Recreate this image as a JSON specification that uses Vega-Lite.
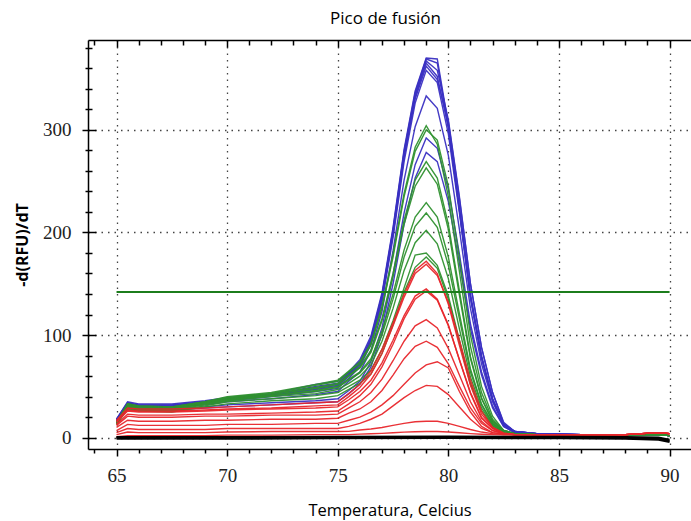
{
"$schema": "https://vega.github.io/schema/vega-lite/v6.json",
"width": 603, "height": 409,
"autosize": "none",
"padding": {"left": 88, "top": 40, "right": 0, "bottom": 72},
"background": "white",
"title": {"text": "Pico de fusión", "font": "Open Sans", "fontSize": 17, "fontWeight": "normal", "color": "#000", "offset": 11, "dx": -4},
"config": {"view": {"stroke": null}, "axis": {"domainColor": "#000", "domainWidth": 1.5, "tickColor": "#000", "tickWidth": 1.5, "labelColor": "#222", "labelFont": "Liberation Sans Narrow", "labelFontSize": 19, "titleFont": "Open Sans", "titleColor": "#000", "labelOverlap": false, "labelFlush": false, "labelBound": false}},
"datasets": {
"umbral": [{"t": 65, "v": 142}, {"t": 90, "v": 142}],
"ntc": [
{"id":"K1","t":65,"v":0.5},{"id":"K1","t":70,"v":0.5},{"id":"K1","t":75,"v":0.8},{"id":"K1","t":80,"v":1},{"id":"K1","t":85,"v":0.8},{"id":"K1","t":88,"v":0.5},{"id":"K1","t":89.5,"v":0},{"id":"K1","t":90,"v":-2},
{"id":"K2","t":65,"v":-0.8},{"id":"K2","t":70,"v":-1},{"id":"K2","t":75,"v":-0.5},{"id":"K2","t":80,"v":-0.3},{"id":"K2","t":85,"v":-0.5},{"id":"K2","t":88,"v":-1},{"id":"K2","t":89.5,"v":-2},{"id":"K2","t":90,"v":-4},
{"id":"K3","t":65,"v":0},{"id":"K3","t":70,"v":-0.2},{"id":"K3","t":75,"v":0.2},{"id":"K3","t":80,"v":0.3},{"id":"K3","t":85,"v":0.1},{"id":"K3","t":88,"v":-0.2},{"id":"K3","t":89.5,"v":-1},{"id":"K3","t":90,"v":-3}
],
"curvas": [
{"id":"B1","g":"B","t":65,"v":18},{"id":"B1","g":"B","t":65.5,"v":35},{"id":"B1","g":"B","t":66,"v":33},{"id":"B1","g":"B","t":67.5,"v":33},{"id":"B1","g":"B","t":69,"v":36},{"id":"B1","g":"B","t":70,"v":39},{"id":"B1","g":"B","t":72,"v":43},{"id":"B1","g":"B","t":74,"v":52},{"id":"B1","g":"B","t":75,"v":55},{"id":"B1","g":"B","t":75.5,"v":64},{"id":"B1","g":"B","t":76,"v":76},{"id":"B1","g":"B","t":76.5,"v":99},{"id":"B1","g":"B","t":77,"v":141},{"id":"B1","g":"B","t":77.5,"v":205},{"id":"B1","g":"B","t":78,"v":281},{"id":"B1","g":"B","t":78.5,"v":338},{"id":"B1","g":"B","t":79,"v":370},{"id":"B1","g":"B","t":79.5,"v":369},{"id":"B1","g":"B","t":80,"v":305},{"id":"B1","g":"B","t":80.5,"v":225},{"id":"B1","g":"B","t":81,"v":140},{"id":"B1","g":"B","t":81.5,"v":80},{"id":"B1","g":"B","t":82,"v":38},{"id":"B1","g":"B","t":82.5,"v":13},{"id":"B1","g":"B","t":83,"v":6},{"id":"B1","g":"B","t":84,"v":4},{"id":"B1","g":"B","t":86,"v":3},{"id":"B1","g":"B","t":88,"v":3},{"id":"B1","g":"B","t":89.5,"v":3},{"id":"B1","g":"B","t":90,"v":2},
{"id":"B2","g":"B","t":65,"v":18},{"id":"B2","g":"B","t":65.5,"v":34},{"id":"B2","g":"B","t":66,"v":32},{"id":"B2","g":"B","t":67.5,"v":32},{"id":"B2","g":"B","t":69,"v":35},{"id":"B2","g":"B","t":70,"v":38},{"id":"B2","g":"B","t":72,"v":42},{"id":"B2","g":"B","t":74,"v":50},{"id":"B2","g":"B","t":75,"v":53},{"id":"B2","g":"B","t":75.5,"v":63},{"id":"B2","g":"B","t":76,"v":74},{"id":"B2","g":"B","t":76.5,"v":97},{"id":"B2","g":"B","t":77,"v":139},{"id":"B2","g":"B","t":77.5,"v":203},{"id":"B2","g":"B","t":78,"v":279},{"id":"B2","g":"B","t":78.5,"v":336},{"id":"B2","g":"B","t":79,"v":369},{"id":"B2","g":"B","t":79.5,"v":365},{"id":"B2","g":"B","t":80,"v":303},{"id":"B2","g":"B","t":80.5,"v":222},{"id":"B2","g":"B","t":81,"v":137},{"id":"B2","g":"B","t":81.5,"v":78},{"id":"B2","g":"B","t":82,"v":37},{"id":"B2","g":"B","t":82.5,"v":13},{"id":"B2","g":"B","t":83,"v":6},{"id":"B2","g":"B","t":84,"v":4},{"id":"B2","g":"B","t":86,"v":3},{"id":"B2","g":"B","t":88,"v":3},{"id":"B2","g":"B","t":89.5,"v":3},{"id":"B2","g":"B","t":90,"v":2},
{"id":"B3","g":"B","t":65,"v":17},{"id":"B3","g":"B","t":65.5,"v":34},{"id":"B3","g":"B","t":66,"v":32},{"id":"B3","g":"B","t":67.5,"v":32},{"id":"B3","g":"B","t":69,"v":35},{"id":"B3","g":"B","t":70,"v":38},{"id":"B3","g":"B","t":72,"v":42},{"id":"B3","g":"B","t":74,"v":49},{"id":"B3","g":"B","t":75,"v":52},{"id":"B3","g":"B","t":75.5,"v":62},{"id":"B3","g":"B","t":76,"v":73},{"id":"B3","g":"B","t":76.5,"v":95},{"id":"B3","g":"B","t":77,"v":138},{"id":"B3","g":"B","t":77.5,"v":201},{"id":"B3","g":"B","t":78,"v":277},{"id":"B3","g":"B","t":78.5,"v":334},{"id":"B3","g":"B","t":79,"v":367},{"id":"B3","g":"B","t":79.5,"v":358},{"id":"B3","g":"B","t":80,"v":310},{"id":"B3","g":"B","t":80.5,"v":235},{"id":"B3","g":"B","t":81,"v":150},{"id":"B3","g":"B","t":81.5,"v":88},{"id":"B3","g":"B","t":82,"v":44},{"id":"B3","g":"B","t":82.5,"v":15},{"id":"B3","g":"B","t":83,"v":6},{"id":"B3","g":"B","t":84,"v":4},{"id":"B3","g":"B","t":86,"v":3},{"id":"B3","g":"B","t":88,"v":3},{"id":"B3","g":"B","t":89.5,"v":3},{"id":"B3","g":"B","t":90,"v":2},
{"id":"B4","g":"B","t":65,"v":17},{"id":"B4","g":"B","t":65.5,"v":33},{"id":"B4","g":"B","t":66,"v":31},{"id":"B4","g":"B","t":67.5,"v":31},{"id":"B4","g":"B","t":69,"v":34},{"id":"B4","g":"B","t":70,"v":37},{"id":"B4","g":"B","t":72,"v":41},{"id":"B4","g":"B","t":74,"v":48},{"id":"B4","g":"B","t":75,"v":51},{"id":"B4","g":"B","t":75.5,"v":61},{"id":"B4","g":"B","t":76,"v":72},{"id":"B4","g":"B","t":76.5,"v":94},{"id":"B4","g":"B","t":77,"v":136},{"id":"B4","g":"B","t":77.5,"v":200},{"id":"B4","g":"B","t":78,"v":275},{"id":"B4","g":"B","t":78.5,"v":332},{"id":"B4","g":"B","t":79,"v":365},{"id":"B4","g":"B","t":79.5,"v":352},{"id":"B4","g":"B","t":80,"v":302},{"id":"B4","g":"B","t":80.5,"v":222},{"id":"B4","g":"B","t":81,"v":138},{"id":"B4","g":"B","t":81.5,"v":79},{"id":"B4","g":"B","t":82,"v":38},{"id":"B4","g":"B","t":82.5,"v":13},{"id":"B4","g":"B","t":83,"v":6},{"id":"B4","g":"B","t":84,"v":4},{"id":"B4","g":"B","t":86,"v":3},{"id":"B4","g":"B","t":88,"v":3},{"id":"B4","g":"B","t":89.5,"v":3},{"id":"B4","g":"B","t":90,"v":2},
{"id":"B5","g":"B","t":65,"v":17},{"id":"B5","g":"B","t":65.5,"v":33},{"id":"B5","g":"B","t":66,"v":31},{"id":"B5","g":"B","t":67.5,"v":31},{"id":"B5","g":"B","t":69,"v":34},{"id":"B5","g":"B","t":70,"v":37},{"id":"B5","g":"B","t":72,"v":41},{"id":"B5","g":"B","t":74,"v":47},{"id":"B5","g":"B","t":75,"v":50},{"id":"B5","g":"B","t":75.5,"v":60},{"id":"B5","g":"B","t":76,"v":71},{"id":"B5","g":"B","t":76.5,"v":93},{"id":"B5","g":"B","t":77,"v":135},{"id":"B5","g":"B","t":77.5,"v":198},{"id":"B5","g":"B","t":78,"v":273},{"id":"B5","g":"B","t":78.5,"v":330},{"id":"B5","g":"B","t":79,"v":362},{"id":"B5","g":"B","t":79.5,"v":349},{"id":"B5","g":"B","t":80,"v":308},{"id":"B5","g":"B","t":80.5,"v":233},{"id":"B5","g":"B","t":81,"v":150},{"id":"B5","g":"B","t":81.5,"v":88},{"id":"B5","g":"B","t":82,"v":44},{"id":"B5","g":"B","t":82.5,"v":14},{"id":"B5","g":"B","t":83,"v":6},{"id":"B5","g":"B","t":84,"v":4},{"id":"B5","g":"B","t":86,"v":3},{"id":"B5","g":"B","t":88,"v":3},{"id":"B5","g":"B","t":89.5,"v":3},{"id":"B5","g":"B","t":90,"v":2},
{"id":"B6","g":"B","t":65,"v":16},{"id":"B6","g":"B","t":65.5,"v":32},{"id":"B6","g":"B","t":66,"v":30},{"id":"B6","g":"B","t":67.5,"v":30},{"id":"B6","g":"B","t":69,"v":33},{"id":"B6","g":"B","t":70,"v":36},{"id":"B6","g":"B","t":72,"v":40},{"id":"B6","g":"B","t":74,"v":45},{"id":"B6","g":"B","t":75,"v":48},{"id":"B6","g":"B","t":75.5,"v":58},{"id":"B6","g":"B","t":76,"v":69},{"id":"B6","g":"B","t":76.5,"v":91},{"id":"B6","g":"B","t":77,"v":132},{"id":"B6","g":"B","t":77.5,"v":195},{"id":"B6","g":"B","t":78,"v":269},{"id":"B6","g":"B","t":78.5,"v":326},{"id":"B6","g":"B","t":79,"v":358},{"id":"B6","g":"B","t":79.5,"v":346},{"id":"B6","g":"B","t":80,"v":296},{"id":"B6","g":"B","t":80.5,"v":219},{"id":"B6","g":"B","t":81,"v":136},{"id":"B6","g":"B","t":81.5,"v":78},{"id":"B6","g":"B","t":82,"v":37},{"id":"B6","g":"B","t":82.5,"v":13},{"id":"B6","g":"B","t":83,"v":6},{"id":"B6","g":"B","t":84,"v":4},{"id":"B6","g":"B","t":86,"v":3},{"id":"B6","g":"B","t":88,"v":3},{"id":"B6","g":"B","t":89.5,"v":3},{"id":"B6","g":"B","t":90,"v":2},
{"id":"B7","g":"B","t":65,"v":16},{"id":"B7","g":"B","t":65.5,"v":32},{"id":"B7","g":"B","t":66,"v":30},{"id":"B7","g":"B","t":67.5,"v":30},{"id":"B7","g":"B","t":69,"v":32},{"id":"B7","g":"B","t":70,"v":35},{"id":"B7","g":"B","t":72,"v":38},{"id":"B7","g":"B","t":74,"v":42},{"id":"B7","g":"B","t":75,"v":45},{"id":"B7","g":"B","t":75.5,"v":55},{"id":"B7","g":"B","t":76,"v":64},{"id":"B7","g":"B","t":76.5,"v":85},{"id":"B7","g":"B","t":77,"v":123},{"id":"B7","g":"B","t":77.5,"v":182},{"id":"B7","g":"B","t":78,"v":251},{"id":"B7","g":"B","t":78.5,"v":303},{"id":"B7","g":"B","t":79,"v":333},{"id":"B7","g":"B","t":79.5,"v":321},{"id":"B7","g":"B","t":80,"v":275},{"id":"B7","g":"B","t":80.5,"v":203},{"id":"B7","g":"B","t":81,"v":126},{"id":"B7","g":"B","t":81.5,"v":72},{"id":"B7","g":"B","t":82,"v":35},{"id":"B7","g":"B","t":82.5,"v":12},{"id":"B7","g":"B","t":83,"v":5},{"id":"B7","g":"B","t":84,"v":4},{"id":"B7","g":"B","t":86,"v":3},{"id":"B7","g":"B","t":88,"v":3},{"id":"B7","g":"B","t":89.5,"v":3},{"id":"B7","g":"B","t":90,"v":2},
{"id":"B8","g":"B","t":65,"v":15},{"id":"B8","g":"B","t":65.5,"v":30},{"id":"B8","g":"B","t":66,"v":28},{"id":"B8","g":"B","t":67.5,"v":28},{"id":"B8","g":"B","t":69,"v":30},{"id":"B8","g":"B","t":70,"v":32},{"id":"B8","g":"B","t":72,"v":34},{"id":"B8","g":"B","t":74,"v":36},{"id":"B8","g":"B","t":75,"v":38},{"id":"B8","g":"B","t":75.5,"v":46},{"id":"B8","g":"B","t":76,"v":55},{"id":"B8","g":"B","t":76.5,"v":74},{"id":"B8","g":"B","t":77,"v":107},{"id":"B8","g":"B","t":77.5,"v":159},{"id":"B8","g":"B","t":78,"v":219},{"id":"B8","g":"B","t":78.5,"v":266},{"id":"B8","g":"B","t":79,"v":292},{"id":"B8","g":"B","t":79.5,"v":282},{"id":"B8","g":"B","t":80,"v":242},{"id":"B8","g":"B","t":80.5,"v":179},{"id":"B8","g":"B","t":81,"v":111},{"id":"B8","g":"B","t":81.5,"v":64},{"id":"B8","g":"B","t":82,"v":31},{"id":"B8","g":"B","t":82.5,"v":11},{"id":"B8","g":"B","t":83,"v":5},{"id":"B8","g":"B","t":84,"v":4},{"id":"B8","g":"B","t":86,"v":3},{"id":"B8","g":"B","t":88,"v":3},{"id":"B8","g":"B","t":89.5,"v":3},{"id":"B8","g":"B","t":90,"v":2},
{"id":"B9","g":"B","t":65,"v":15},{"id":"B9","g":"B","t":65.5,"v":29},{"id":"B9","g":"B","t":66,"v":27},{"id":"B9","g":"B","t":67.5,"v":27},{"id":"B9","g":"B","t":69,"v":29},{"id":"B9","g":"B","t":70,"v":30},{"id":"B9","g":"B","t":72,"v":32},{"id":"B9","g":"B","t":74,"v":34},{"id":"B9","g":"B","t":75,"v":35},{"id":"B9","g":"B","t":75.5,"v":43},{"id":"B9","g":"B","t":76,"v":52},{"id":"B9","g":"B","t":76.5,"v":69},{"id":"B9","g":"B","t":77,"v":101},{"id":"B9","g":"B","t":77.5,"v":150},{"id":"B9","g":"B","t":78,"v":208},{"id":"B9","g":"B","t":78.5,"v":253},{"id":"B9","g":"B","t":79,"v":278},{"id":"B9","g":"B","t":79.5,"v":269},{"id":"B9","g":"B","t":80,"v":230},{"id":"B9","g":"B","t":80.5,"v":170},{"id":"B9","g":"B","t":81,"v":106},{"id":"B9","g":"B","t":81.5,"v":61},{"id":"B9","g":"B","t":82,"v":29},{"id":"B9","g":"B","t":82.5,"v":11},{"id":"B9","g":"B","t":83,"v":5},{"id":"B9","g":"B","t":84,"v":4},{"id":"B9","g":"B","t":86,"v":3},{"id":"B9","g":"B","t":88,"v":3},{"id":"B9","g":"B","t":89.5,"v":3},{"id":"B9","g":"B","t":90,"v":2},
{"id":"G1","g":"G","t":65,"v":15},{"id":"G1","g":"G","t":65.5,"v":33},{"id":"G1","g":"G","t":66,"v":31},{"id":"G1","g":"G","t":67.5,"v":30},{"id":"G1","g":"G","t":69,"v":35},{"id":"G1","g":"G","t":70,"v":40},{"id":"G1","g":"G","t":72,"v":44},{"id":"G1","g":"G","t":74,"v":52},{"id":"G1","g":"G","t":75,"v":56},{"id":"G1","g":"G","t":75.5,"v":65},{"id":"G1","g":"G","t":76,"v":74},{"id":"G1","g":"G","t":76.5,"v":92},{"id":"G1","g":"G","t":77,"v":128},{"id":"G1","g":"G","t":77.5,"v":179},{"id":"G1","g":"G","t":78,"v":238},{"id":"G1","g":"G","t":78.5,"v":283},{"id":"G1","g":"G","t":79,"v":304},{"id":"G1","g":"G","t":79.5,"v":286},{"id":"G1","g":"G","t":80,"v":235},{"id":"G1","g":"G","t":80.5,"v":162},{"id":"G1","g":"G","t":81,"v":89},{"id":"G1","g":"G","t":81.5,"v":44},{"id":"G1","g":"G","t":82,"v":18},{"id":"G1","g":"G","t":82.5,"v":7},{"id":"G1","g":"G","t":83,"v":4},{"id":"G1","g":"G","t":84,"v":3},{"id":"G1","g":"G","t":86,"v":3},{"id":"G1","g":"G","t":88,"v":3},{"id":"G1","g":"G","t":89.5,"v":3},{"id":"G1","g":"G","t":90,"v":2},
{"id":"G2","g":"G","t":65,"v":15},{"id":"G2","g":"G","t":65.5,"v":33},{"id":"G2","g":"G","t":66,"v":31},{"id":"G2","g":"G","t":67.5,"v":30},{"id":"G2","g":"G","t":69,"v":35},{"id":"G2","g":"G","t":70,"v":39},{"id":"G2","g":"G","t":72,"v":43},{"id":"G2","g":"G","t":74,"v":51},{"id":"G2","g":"G","t":75,"v":55},{"id":"G2","g":"G","t":75.5,"v":64},{"id":"G2","g":"G","t":76,"v":72},{"id":"G2","g":"G","t":76.5,"v":90},{"id":"G2","g":"G","t":77,"v":126},{"id":"G2","g":"G","t":77.5,"v":176},{"id":"G2","g":"G","t":78,"v":235},{"id":"G2","g":"G","t":78.5,"v":279},{"id":"G2","g":"G","t":79,"v":300},{"id":"G2","g":"G","t":79.5,"v":290},{"id":"G2","g":"G","t":80,"v":245},{"id":"G2","g":"G","t":80.5,"v":175},{"id":"G2","g":"G","t":81,"v":100},{"id":"G2","g":"G","t":81.5,"v":50},{"id":"G2","g":"G","t":82,"v":21},{"id":"G2","g":"G","t":82.5,"v":7},{"id":"G2","g":"G","t":83,"v":4},{"id":"G2","g":"G","t":84,"v":3},{"id":"G2","g":"G","t":86,"v":3},{"id":"G2","g":"G","t":88,"v":3},{"id":"G2","g":"G","t":89.5,"v":3},{"id":"G2","g":"G","t":90,"v":2},
{"id":"G3","g":"G","t":65,"v":15},{"id":"G3","g":"G","t":65.5,"v":32},{"id":"G3","g":"G","t":66,"v":30},{"id":"G3","g":"G","t":67.5,"v":29},{"id":"G3","g":"G","t":69,"v":34},{"id":"G3","g":"G","t":70,"v":39},{"id":"G3","g":"G","t":72,"v":43},{"id":"G3","g":"G","t":74,"v":49},{"id":"G3","g":"G","t":75,"v":53},{"id":"G3","g":"G","t":75.5,"v":61},{"id":"G3","g":"G","t":76,"v":69},{"id":"G3","g":"G","t":76.5,"v":85},{"id":"G3","g":"G","t":77,"v":116},{"id":"G3","g":"G","t":77.5,"v":160},{"id":"G3","g":"G","t":78,"v":212},{"id":"G3","g":"G","t":78.5,"v":251},{"id":"G3","g":"G","t":79,"v":269},{"id":"G3","g":"G","t":79.5,"v":253},{"id":"G3","g":"G","t":80,"v":208},{"id":"G3","g":"G","t":80.5,"v":143},{"id":"G3","g":"G","t":81,"v":79},{"id":"G3","g":"G","t":81.5,"v":39},{"id":"G3","g":"G","t":82,"v":16},{"id":"G3","g":"G","t":82.5,"v":7},{"id":"G3","g":"G","t":83,"v":4},{"id":"G3","g":"G","t":84,"v":3},{"id":"G3","g":"G","t":86,"v":3},{"id":"G3","g":"G","t":88,"v":3},{"id":"G3","g":"G","t":89.5,"v":3},{"id":"G3","g":"G","t":90,"v":2},
{"id":"G4","g":"G","t":65,"v":15},{"id":"G4","g":"G","t":65.5,"v":32},{"id":"G4","g":"G","t":66,"v":30},{"id":"G4","g":"G","t":67.5,"v":29},{"id":"G4","g":"G","t":69,"v":34},{"id":"G4","g":"G","t":70,"v":38},{"id":"G4","g":"G","t":72,"v":42},{"id":"G4","g":"G","t":74,"v":48},{"id":"G4","g":"G","t":75,"v":52},{"id":"G4","g":"G","t":75.5,"v":60},{"id":"G4","g":"G","t":76,"v":68},{"id":"G4","g":"G","t":76.5,"v":83},{"id":"G4","g":"G","t":77,"v":114},{"id":"G4","g":"G","t":77.5,"v":157},{"id":"G4","g":"G","t":78,"v":208},{"id":"G4","g":"G","t":78.5,"v":245},{"id":"G4","g":"G","t":79,"v":263},{"id":"G4","g":"G","t":79.5,"v":247},{"id":"G4","g":"G","t":80,"v":203},{"id":"G4","g":"G","t":80.5,"v":139},{"id":"G4","g":"G","t":81,"v":77},{"id":"G4","g":"G","t":81.5,"v":38},{"id":"G4","g":"G","t":82,"v":16},{"id":"G4","g":"G","t":82.5,"v":7},{"id":"G4","g":"G","t":83,"v":4},{"id":"G4","g":"G","t":84,"v":3},{"id":"G4","g":"G","t":86,"v":3},{"id":"G4","g":"G","t":88,"v":3},{"id":"G4","g":"G","t":89.5,"v":3},{"id":"G4","g":"G","t":90,"v":2},
{"id":"G5","g":"G","t":65,"v":14},{"id":"G5","g":"G","t":65.5,"v":31},{"id":"G5","g":"G","t":66,"v":29},{"id":"G5","g":"G","t":67.5,"v":28},{"id":"G5","g":"G","t":69,"v":33},{"id":"G5","g":"G","t":70,"v":37},{"id":"G5","g":"G","t":72,"v":41},{"id":"G5","g":"G","t":74,"v":46},{"id":"G5","g":"G","t":75,"v":50},{"id":"G5","g":"G","t":75.5,"v":57},{"id":"G5","g":"G","t":76,"v":64},{"id":"G5","g":"G","t":76.5,"v":77},{"id":"G5","g":"G","t":77,"v":104},{"id":"G5","g":"G","t":77.5,"v":140},{"id":"G5","g":"G","t":78,"v":183},{"id":"G5","g":"G","t":78.5,"v":215},{"id":"G5","g":"G","t":79,"v":229},{"id":"G5","g":"G","t":79.5,"v":215},{"id":"G5","g":"G","t":80,"v":176},{"id":"G5","g":"G","t":80.5,"v":121},{"id":"G5","g":"G","t":81,"v":67},{"id":"G5","g":"G","t":81.5,"v":33},{"id":"G5","g":"G","t":82,"v":14},{"id":"G5","g":"G","t":82.5,"v":6},{"id":"G5","g":"G","t":83,"v":4},{"id":"G5","g":"G","t":84,"v":3},{"id":"G5","g":"G","t":86,"v":3},{"id":"G5","g":"G","t":88,"v":3},{"id":"G5","g":"G","t":89.5,"v":3},{"id":"G5","g":"G","t":90,"v":2},
{"id":"G6","g":"G","t":65,"v":14},{"id":"G6","g":"G","t":65.5,"v":31},{"id":"G6","g":"G","t":66,"v":29},{"id":"G6","g":"G","t":67.5,"v":28},{"id":"G6","g":"G","t":69,"v":33},{"id":"G6","g":"G","t":70,"v":37},{"id":"G6","g":"G","t":72,"v":41},{"id":"G6","g":"G","t":74,"v":45},{"id":"G6","g":"G","t":75,"v":49},{"id":"G6","g":"G","t":75.5,"v":56},{"id":"G6","g":"G","t":76,"v":63},{"id":"G6","g":"G","t":76.5,"v":75},{"id":"G6","g":"G","t":77,"v":100},{"id":"G6","g":"G","t":77.5,"v":135},{"id":"G6","g":"G","t":78,"v":176},{"id":"G6","g":"G","t":78.5,"v":206},{"id":"G6","g":"G","t":79,"v":219},{"id":"G6","g":"G","t":79.5,"v":205},{"id":"G6","g":"G","t":80,"v":168},{"id":"G6","g":"G","t":80.5,"v":116},{"id":"G6","g":"G","t":81,"v":64},{"id":"G6","g":"G","t":81.5,"v":32},{"id":"G6","g":"G","t":82,"v":14},{"id":"G6","g":"G","t":82.5,"v":6},{"id":"G6","g":"G","t":83,"v":4},{"id":"G6","g":"G","t":84,"v":3},{"id":"G6","g":"G","t":86,"v":3},{"id":"G6","g":"G","t":88,"v":3},{"id":"G6","g":"G","t":89.5,"v":3},{"id":"G6","g":"G","t":90,"v":2},
{"id":"G7","g":"G","t":65,"v":14},{"id":"G7","g":"G","t":65.5,"v":30},{"id":"G7","g":"G","t":66,"v":28},{"id":"G7","g":"G","t":67.5,"v":27},{"id":"G7","g":"G","t":69,"v":32},{"id":"G7","g":"G","t":70,"v":36},{"id":"G7","g":"G","t":72,"v":40},{"id":"G7","g":"G","t":74,"v":43},{"id":"G7","g":"G","t":75,"v":47},{"id":"G7","g":"G","t":75.5,"v":53},{"id":"G7","g":"G","t":76,"v":60},{"id":"G7","g":"G","t":76.5,"v":71},{"id":"G7","g":"G","t":77,"v":94},{"id":"G7","g":"G","t":77.5,"v":126},{"id":"G7","g":"G","t":78,"v":163},{"id":"G7","g":"G","t":78.5,"v":190},{"id":"G7","g":"G","t":79,"v":202},{"id":"G7","g":"G","t":79.5,"v":189},{"id":"G7","g":"G","t":80,"v":155},{"id":"G7","g":"G","t":80.5,"v":106},{"id":"G7","g":"G","t":81,"v":59},{"id":"G7","g":"G","t":81.5,"v":29},{"id":"G7","g":"G","t":82,"v":13},{"id":"G7","g":"G","t":82.5,"v":6},{"id":"G7","g":"G","t":83,"v":4},{"id":"G7","g":"G","t":84,"v":3},{"id":"G7","g":"G","t":86,"v":3},{"id":"G7","g":"G","t":88,"v":3},{"id":"G7","g":"G","t":89.5,"v":3},{"id":"G7","g":"G","t":90,"v":2},
{"id":"G8","g":"G","t":65,"v":13},{"id":"G8","g":"G","t":65.5,"v":29},{"id":"G8","g":"G","t":66,"v":27},{"id":"G8","g":"G","t":67.5,"v":26},{"id":"G8","g":"G","t":69,"v":31},{"id":"G8","g":"G","t":70,"v":35},{"id":"G8","g":"G","t":72,"v":38},{"id":"G8","g":"G","t":74,"v":41},{"id":"G8","g":"G","t":75,"v":44},{"id":"G8","g":"G","t":75.5,"v":50},{"id":"G8","g":"G","t":76,"v":56},{"id":"G8","g":"G","t":76.5,"v":66},{"id":"G8","g":"G","t":77,"v":86},{"id":"G8","g":"G","t":77.5,"v":114},{"id":"G8","g":"G","t":78,"v":146},{"id":"G8","g":"G","t":78.5,"v":178},{"id":"G8","g":"G","t":79,"v":180},{"id":"G8","g":"G","t":79.5,"v":168},{"id":"G8","g":"G","t":80,"v":138},{"id":"G8","g":"G","t":80.5,"v":95},{"id":"G8","g":"G","t":81,"v":53},{"id":"G8","g":"G","t":81.5,"v":26},{"id":"G8","g":"G","t":82,"v":12},{"id":"G8","g":"G","t":82.5,"v":5},{"id":"G8","g":"G","t":83,"v":4},{"id":"G8","g":"G","t":84,"v":3},{"id":"G8","g":"G","t":86,"v":3},{"id":"G8","g":"G","t":88,"v":3},{"id":"G8","g":"G","t":89.5,"v":3},{"id":"G8","g":"G","t":90,"v":2},
{"id":"G9","g":"G","t":65,"v":13},{"id":"G9","g":"G","t":65.5,"v":28},{"id":"G9","g":"G","t":66,"v":26},{"id":"G9","g":"G","t":67.5,"v":25},{"id":"G9","g":"G","t":69,"v":30},{"id":"G9","g":"G","t":70,"v":33},{"id":"G9","g":"G","t":72,"v":36},{"id":"G9","g":"G","t":74,"v":38},{"id":"G9","g":"G","t":75,"v":41},{"id":"G9","g":"G","t":75.5,"v":47},{"id":"G9","g":"G","t":76,"v":53},{"id":"G9","g":"G","t":76.5,"v":62},{"id":"G9","g":"G","t":77,"v":82},{"id":"G9","g":"G","t":77.5,"v":110},{"id":"G9","g":"G","t":78,"v":142},{"id":"G9","g":"G","t":78.5,"v":166},{"id":"G9","g":"G","t":79,"v":176},{"id":"G9","g":"G","t":79.5,"v":165},{"id":"G9","g":"G","t":80,"v":135},{"id":"G9","g":"G","t":80.5,"v":93},{"id":"G9","g":"G","t":81,"v":52},{"id":"G9","g":"G","t":81.5,"v":26},{"id":"G9","g":"G","t":82,"v":11},{"id":"G9","g":"G","t":82.5,"v":5},{"id":"G9","g":"G","t":83,"v":4},{"id":"G9","g":"G","t":84,"v":3},{"id":"G9","g":"G","t":86,"v":3},{"id":"G9","g":"G","t":88,"v":3},{"id":"G9","g":"G","t":89.5,"v":3},{"id":"G9","g":"G","t":90,"v":2},
{"id":"R1","g":"R","t":65,"v":17},{"id":"R1","g":"R","t":65.5,"v":29},{"id":"R1","g":"R","t":66,"v":28},{"id":"R1","g":"R","t":67.5,"v":28},{"id":"R1","g":"R","t":69,"v":29},{"id":"R1","g":"R","t":70,"v":30},{"id":"R1","g":"R","t":72,"v":32},{"id":"R1","g":"R","t":74,"v":34},{"id":"R1","g":"R","t":75,"v":35},{"id":"R1","g":"R","t":75.5,"v":43},{"id":"R1","g":"R","t":76,"v":52},{"id":"R1","g":"R","t":76.5,"v":65},{"id":"R1","g":"R","t":77,"v":86},{"id":"R1","g":"R","t":77.5,"v":112},{"id":"R1","g":"R","t":78,"v":140},{"id":"R1","g":"R","t":78.5,"v":163},{"id":"R1","g":"R","t":79,"v":172},{"id":"R1","g":"R","t":79.5,"v":160},{"id":"R1","g":"R","t":80,"v":130},{"id":"R1","g":"R","t":80.5,"v":90},{"id":"R1","g":"R","t":81,"v":51},{"id":"R1","g":"R","t":81.5,"v":23},{"id":"R1","g":"R","t":82,"v":10},{"id":"R1","g":"R","t":82.5,"v":4.5},{"id":"R1","g":"R","t":83,"v":3},{"id":"R1","g":"R","t":84,"v":3},{"id":"R1","g":"R","t":86,"v":3},{"id":"R1","g":"R","t":88,"v":3},{"id":"R1","g":"R","t":89.5,"v":5},{"id":"R1","g":"R","t":90,"v":4},
{"id":"R2","g":"R","t":65,"v":16},{"id":"R2","g":"R","t":65.5,"v":27},{"id":"R2","g":"R","t":66,"v":26},{"id":"R2","g":"R","t":67.5,"v":26},{"id":"R2","g":"R","t":69,"v":27},{"id":"R2","g":"R","t":70,"v":28},{"id":"R2","g":"R","t":72,"v":29},{"id":"R2","g":"R","t":74,"v":31},{"id":"R2","g":"R","t":75,"v":32},{"id":"R2","g":"R","t":75.5,"v":40},{"id":"R2","g":"R","t":76,"v":49},{"id":"R2","g":"R","t":76.5,"v":62},{"id":"R2","g":"R","t":77,"v":82},{"id":"R2","g":"R","t":77.5,"v":109},{"id":"R2","g":"R","t":78,"v":137},{"id":"R2","g":"R","t":78.5,"v":160},{"id":"R2","g":"R","t":79,"v":169},{"id":"R2","g":"R","t":79.5,"v":158},{"id":"R2","g":"R","t":80,"v":132},{"id":"R2","g":"R","t":80.5,"v":95},{"id":"R2","g":"R","t":81,"v":56},{"id":"R2","g":"R","t":81.5,"v":26},{"id":"R2","g":"R","t":82,"v":10},{"id":"R2","g":"R","t":82.5,"v":4.5},{"id":"R2","g":"R","t":83,"v":3},{"id":"R2","g":"R","t":84,"v":3},{"id":"R2","g":"R","t":86,"v":3},{"id":"R2","g":"R","t":88,"v":3},{"id":"R2","g":"R","t":89.5,"v":5},{"id":"R2","g":"R","t":90,"v":4},
{"id":"R3","g":"R","t":65,"v":15},{"id":"R3","g":"R","t":65.5,"v":26},{"id":"R3","g":"R","t":66,"v":25},{"id":"R3","g":"R","t":67.5,"v":25},{"id":"R3","g":"R","t":69,"v":26},{"id":"R3","g":"R","t":70,"v":27},{"id":"R3","g":"R","t":72,"v":28},{"id":"R3","g":"R","t":74,"v":29},{"id":"R3","g":"R","t":75,"v":30},{"id":"R3","g":"R","t":75.5,"v":37},{"id":"R3","g":"R","t":76,"v":45},{"id":"R3","g":"R","t":76.5,"v":56},{"id":"R3","g":"R","t":77,"v":73},{"id":"R3","g":"R","t":77.5,"v":95},{"id":"R3","g":"R","t":78,"v":119},{"id":"R3","g":"R","t":78.5,"v":138},{"id":"R3","g":"R","t":79,"v":145},{"id":"R3","g":"R","t":79.5,"v":135},{"id":"R3","g":"R","t":80,"v":110},{"id":"R3","g":"R","t":80.5,"v":76},{"id":"R3","g":"R","t":81,"v":44},{"id":"R3","g":"R","t":81.5,"v":20},{"id":"R3","g":"R","t":82,"v":9},{"id":"R3","g":"R","t":82.5,"v":4},{"id":"R3","g":"R","t":83,"v":3},{"id":"R3","g":"R","t":84,"v":3},{"id":"R3","g":"R","t":86,"v":3},{"id":"R3","g":"R","t":88,"v":3},{"id":"R3","g":"R","t":89.5,"v":5},{"id":"R3","g":"R","t":90,"v":4},
{"id":"R4","g":"R","t":65,"v":13},{"id":"R4","g":"R","t":65.5,"v":23},{"id":"R4","g":"R","t":66,"v":22},{"id":"R4","g":"R","t":67.5,"v":22},{"id":"R4","g":"R","t":69,"v":23},{"id":"R4","g":"R","t":70,"v":23},{"id":"R4","g":"R","t":72,"v":24},{"id":"R4","g":"R","t":74,"v":25},{"id":"R4","g":"R","t":75,"v":26},{"id":"R4","g":"R","t":75.5,"v":33},{"id":"R4","g":"R","t":76,"v":41},{"id":"R4","g":"R","t":76.5,"v":52},{"id":"R4","g":"R","t":77,"v":69},{"id":"R4","g":"R","t":77.5,"v":91},{"id":"R4","g":"R","t":78,"v":116},{"id":"R4","g":"R","t":78.5,"v":135},{"id":"R4","g":"R","t":79,"v":143},{"id":"R4","g":"R","t":79.5,"v":134},{"id":"R4","g":"R","t":80,"v":109},{"id":"R4","g":"R","t":80.5,"v":76},{"id":"R4","g":"R","t":81,"v":43},{"id":"R4","g":"R","t":81.5,"v":19},{"id":"R4","g":"R","t":82,"v":9},{"id":"R4","g":"R","t":82.5,"v":4},{"id":"R4","g":"R","t":83,"v":3},{"id":"R4","g":"R","t":84,"v":3},{"id":"R4","g":"R","t":86,"v":3},{"id":"R4","g":"R","t":88,"v":3},{"id":"R4","g":"R","t":89.5,"v":5},{"id":"R4","g":"R","t":90,"v":4},
{"id":"R5","g":"R","t":65,"v":12},{"id":"R5","g":"R","t":65.5,"v":21},{"id":"R5","g":"R","t":66,"v":20},{"id":"R5","g":"R","t":67.5,"v":20},{"id":"R5","g":"R","t":69,"v":21},{"id":"R5","g":"R","t":70,"v":21},{"id":"R5","g":"R","t":72,"v":22},{"id":"R5","g":"R","t":74,"v":22},{"id":"R5","g":"R","t":75,"v":23},{"id":"R5","g":"R","t":75.5,"v":29},{"id":"R5","g":"R","t":76,"v":35},{"id":"R5","g":"R","t":76.5,"v":44},{"id":"R5","g":"R","t":77,"v":57},{"id":"R5","g":"R","t":77.5,"v":75},{"id":"R5","g":"R","t":78,"v":94},{"id":"R5","g":"R","t":78.5,"v":109},{"id":"R5","g":"R","t":79,"v":115},{"id":"R5","g":"R","t":79.5,"v":107},{"id":"R5","g":"R","t":80,"v":87},{"id":"R5","g":"R","t":80.5,"v":61},{"id":"R5","g":"R","t":81,"v":35},{"id":"R5","g":"R","t":81.5,"v":16},{"id":"R5","g":"R","t":82,"v":7},{"id":"R5","g":"R","t":82.5,"v":4},{"id":"R5","g":"R","t":83,"v":3},{"id":"R5","g":"R","t":84,"v":3},{"id":"R5","g":"R","t":86,"v":3},{"id":"R5","g":"R","t":88,"v":3},{"id":"R5","g":"R","t":89.5,"v":5},{"id":"R5","g":"R","t":90,"v":4},
{"id":"R6","g":"R","t":65,"v":10},{"id":"R6","g":"R","t":65.5,"v":17},{"id":"R6","g":"R","t":66,"v":16},{"id":"R6","g":"R","t":67.5,"v":16},{"id":"R6","g":"R","t":69,"v":17},{"id":"R6","g":"R","t":70,"v":17},{"id":"R6","g":"R","t":72,"v":18},{"id":"R6","g":"R","t":74,"v":18},{"id":"R6","g":"R","t":75,"v":19},{"id":"R6","g":"R","t":75.5,"v":24},{"id":"R6","g":"R","t":76,"v":28},{"id":"R6","g":"R","t":76.5,"v":35},{"id":"R6","g":"R","t":77,"v":46},{"id":"R6","g":"R","t":77.5,"v":61},{"id":"R6","g":"R","t":78,"v":77},{"id":"R6","g":"R","t":78.5,"v":89},{"id":"R6","g":"R","t":79,"v":94},{"id":"R6","g":"R","t":79.5,"v":88},{"id":"R6","g":"R","t":80,"v":72},{"id":"R6","g":"R","t":80.5,"v":50},{"id":"R6","g":"R","t":81,"v":29},{"id":"R6","g":"R","t":81.5,"v":14},{"id":"R6","g":"R","t":82,"v":7},{"id":"R6","g":"R","t":82.5,"v":4},{"id":"R6","g":"R","t":83,"v":3},{"id":"R6","g":"R","t":84,"v":3},{"id":"R6","g":"R","t":86,"v":3},{"id":"R6","g":"R","t":88,"v":3},{"id":"R6","g":"R","t":89.5,"v":5},{"id":"R6","g":"R","t":90,"v":4},
{"id":"R7","g":"R","t":65,"v":7},{"id":"R7","g":"R","t":65.5,"v":13},{"id":"R7","g":"R","t":66,"v":12},{"id":"R7","g":"R","t":67.5,"v":12},{"id":"R7","g":"R","t":69,"v":12},{"id":"R7","g":"R","t":70,"v":13},{"id":"R7","g":"R","t":72,"v":13},{"id":"R7","g":"R","t":74,"v":14},{"id":"R7","g":"R","t":75,"v":14},{"id":"R7","g":"R","t":75.5,"v":17},{"id":"R7","g":"R","t":76,"v":20},{"id":"R7","g":"R","t":76.5,"v":25},{"id":"R7","g":"R","t":77,"v":32},{"id":"R7","g":"R","t":77.5,"v":41},{"id":"R7","g":"R","t":78,"v":52},{"id":"R7","g":"R","t":78.5,"v":63},{"id":"R7","g":"R","t":79,"v":71},{"id":"R7","g":"R","t":79.5,"v":74},{"id":"R7","g":"R","t":80,"v":68},{"id":"R7","g":"R","t":80.5,"v":45},{"id":"R7","g":"R","t":81,"v":25},{"id":"R7","g":"R","t":81.5,"v":11},{"id":"R7","g":"R","t":82,"v":5},{"id":"R7","g":"R","t":82.5,"v":3.5},{"id":"R7","g":"R","t":83,"v":3},{"id":"R7","g":"R","t":84,"v":3},{"id":"R7","g":"R","t":86,"v":3},{"id":"R7","g":"R","t":88,"v":3},{"id":"R7","g":"R","t":89.5,"v":5},{"id":"R7","g":"R","t":90,"v":4},
{"id":"R8","g":"R","t":65,"v":5},{"id":"R8","g":"R","t":65.5,"v":9},{"id":"R8","g":"R","t":66,"v":8},{"id":"R8","g":"R","t":67.5,"v":8},{"id":"R8","g":"R","t":69,"v":8},{"id":"R8","g":"R","t":70,"v":9},{"id":"R8","g":"R","t":72,"v":9},{"id":"R8","g":"R","t":74,"v":9},{"id":"R8","g":"R","t":75,"v":9},{"id":"R8","g":"R","t":75.5,"v":11},{"id":"R8","g":"R","t":76,"v":14},{"id":"R8","g":"R","t":76.5,"v":18},{"id":"R8","g":"R","t":77,"v":23},{"id":"R8","g":"R","t":77.5,"v":31},{"id":"R8","g":"R","t":78,"v":39},{"id":"R8","g":"R","t":78.5,"v":46},{"id":"R8","g":"R","t":79,"v":51},{"id":"R8","g":"R","t":79.5,"v":50},{"id":"R8","g":"R","t":80,"v":42},{"id":"R8","g":"R","t":80.5,"v":30},{"id":"R8","g":"R","t":81,"v":18},{"id":"R8","g":"R","t":81.5,"v":9},{"id":"R8","g":"R","t":82,"v":5},{"id":"R8","g":"R","t":82.5,"v":3.5},{"id":"R8","g":"R","t":83,"v":3},{"id":"R8","g":"R","t":84,"v":3},{"id":"R8","g":"R","t":86,"v":3},{"id":"R8","g":"R","t":88,"v":3},{"id":"R8","g":"R","t":89.5,"v":5},{"id":"R8","g":"R","t":90,"v":4},
{"id":"R9","g":"R","t":65,"v":3},{"id":"R9","g":"R","t":65.5,"v":5.5},{"id":"R9","g":"R","t":66,"v":5},{"id":"R9","g":"R","t":67.5,"v":5},{"id":"R9","g":"R","t":69,"v":5},{"id":"R9","g":"R","t":70,"v":5.5},{"id":"R9","g":"R","t":72,"v":6},{"id":"R9","g":"R","t":74,"v":6},{"id":"R9","g":"R","t":75,"v":6},{"id":"R9","g":"R","t":75.5,"v":6.2},{"id":"R9","g":"R","t":76,"v":7.5},{"id":"R9","g":"R","t":76.5,"v":8.5},{"id":"R9","g":"R","t":77,"v":10},{"id":"R9","g":"R","t":77.5,"v":12},{"id":"R9","g":"R","t":78,"v":14},{"id":"R9","g":"R","t":78.5,"v":15.5},{"id":"R9","g":"R","t":79,"v":16},{"id":"R9","g":"R","t":79.5,"v":16},{"id":"R9","g":"R","t":80,"v":14},{"id":"R9","g":"R","t":80.5,"v":11},{"id":"R9","g":"R","t":81,"v":8},{"id":"R9","g":"R","t":81.5,"v":5.5},{"id":"R9","g":"R","t":82,"v":4},{"id":"R9","g":"R","t":82.5,"v":3},{"id":"R9","g":"R","t":83,"v":3},{"id":"R9","g":"R","t":84,"v":3},{"id":"R9","g":"R","t":86,"v":3},{"id":"R9","g":"R","t":88,"v":3},{"id":"R9","g":"R","t":89.5,"v":5},{"id":"R9","g":"R","t":90,"v":4},
{"id":"R10","g":"R","t":65,"v":1},{"id":"R10","g":"R","t":65.5,"v":2},{"id":"R10","g":"R","t":66,"v":2},{"id":"R10","g":"R","t":67.5,"v":2},{"id":"R10","g":"R","t":69,"v":2},{"id":"R10","g":"R","t":70,"v":2.5},{"id":"R10","g":"R","t":72,"v":2.5},{"id":"R10","g":"R","t":74,"v":3},{"id":"R10","g":"R","t":75,"v":3},{"id":"R10","g":"R","t":75.5,"v":3},{"id":"R10","g":"R","t":76,"v":3.5},{"id":"R10","g":"R","t":76.5,"v":3.8},{"id":"R10","g":"R","t":77,"v":4.2},{"id":"R10","g":"R","t":77.5,"v":4.8},{"id":"R10","g":"R","t":78,"v":5.4},{"id":"R10","g":"R","t":78.5,"v":5.8},{"id":"R10","g":"R","t":79,"v":6},{"id":"R10","g":"R","t":79.5,"v":6},{"id":"R10","g":"R","t":80,"v":5.5},{"id":"R10","g":"R","t":80.5,"v":4.8},{"id":"R10","g":"R","t":81,"v":4},{"id":"R10","g":"R","t":81.5,"v":3.4},{"id":"R10","g":"R","t":82,"v":3},{"id":"R10","g":"R","t":82.5,"v":2.8},{"id":"R10","g":"R","t":83,"v":2.8},{"id":"R10","g":"R","t":84,"v":2.8},{"id":"R10","g":"R","t":86,"v":2.8},{"id":"R10","g":"R","t":88,"v":3},{"id":"R10","g":"R","t":89.5,"v":5},{"id":"R10","g":"R","t":90,"v":4}
]
},
"layer": [
{
"data": {"name": "curvas"},
"mark": {"type": "line", "strokeWidth": 1.4, "opacity": 0.95, "clip": true},
"encoding": {
"x": {"field": "t", "type": "quantitative",
 "scale": {"domain": [63.71, 90.97], "nice": false, "zero": false},
 "axis": {"orient": "bottom", "values": [64,65,66,67,68,69,70,71,72,73,74,75,76,77,78,79,80,81,82,83,84,85,86,87,88,89,90],
  "labelExpr": "datum.value % 5 === 0 ? datum.label : ''",
  "tickSize": {"condition": {"test": "datum.value % 5 === 0", "value": 7}, "value": 4},
  "grid": true,
  "gridOpacity": {"condition": {"test": "datum.value % 5 === 0", "value": 1}, "value": 0},
  "gridColor": "#444", "gridDash": [1.5, 5], "gridWidth": 1.3,
  "labelPadding": 10,
  "title": "Temperatura, Celcius", "titleFontSize": 16.5, "titleFontWeight": "normal", "titleY": 61, "titleBaseline": "middle"}},
"y": {"field": "v", "type": "quantitative",
 "scale": {"domain": [-11, 387.5], "nice": false, "zero": false},
 "axis": {"orient": "left", "values": [0,20,40,60,80,100,120,140,160,180,200,220,240,260,280,300,320,340,360,380],
  "labelExpr": "datum.value % 100 === 0 ? datum.label : ''",
  "tickSize": {"condition": {"test": "datum.value % 100 === 0", "value": 6}, "value": 3},
  "grid": true,
  "gridOpacity": {"condition": {"test": "datum.value % 100 === 0", "value": 1}, "value": 0},
  "gridColor": "#444", "gridDash": [1.5, 5], "gridWidth": 1.3,
  "labelPadding": 11,
  "title": "-d(RFU)/dT", "titleFontSize": 16, "titleFontWeight": "bold", "titleX": -66, "titleBaseline": "middle"}},
"color": {"field": "g", "type": "nominal", "scale": {"domain": ["B", "G", "R"], "range": ["#3a30c2", "#2f912f", "#e8262b"]}, "legend": null},
"detail": {"field": "id"}
}
},
{
"data": {"name": "ntc"},
"mark": {"type": "line", "strokeWidth": 2.2, "color": "#000", "clip": true},
"encoding": {
"x": {"field": "t", "type": "quantitative", "axis": null},
"y": {"field": "v", "type": "quantitative", "axis": null},
"detail": {"field": "id"}
}
},
{
"data": {"name": "umbral"},
"mark": {"type": "line", "strokeWidth": 2, "color": "#1c7d1c"},
"encoding": {
"x": {"field": "t", "type": "quantitative",
 "axis": {"orient": "top", "values": [64,65,66,67,68,69,70,71,72,73,74,75,76,77,78,79,80,81,82,83,84,85,86,87,88,89,90],
  "labels": false, "grid": false, "title": null,
  "tickSize": {"condition": {"test": "datum.value % 5 === 0", "value": -7}, "value": -5}}},
"y": {"field": "v", "type": "quantitative",
 "axis": {"orient": "left", "values": [0,20,40,60,80,100,120,140,160,180,200,220,240,260,280,300,320,340,360,380],
  "labels": false, "grid": false, "domain": false, "title": null,
  "tickSize": {"condition": {"test": "datum.value % 100 === 0", "value": -8}, "value": -4}}}
}
}
],
"resolve": {"axis": {"x": "independent", "y": "independent"}}
}
